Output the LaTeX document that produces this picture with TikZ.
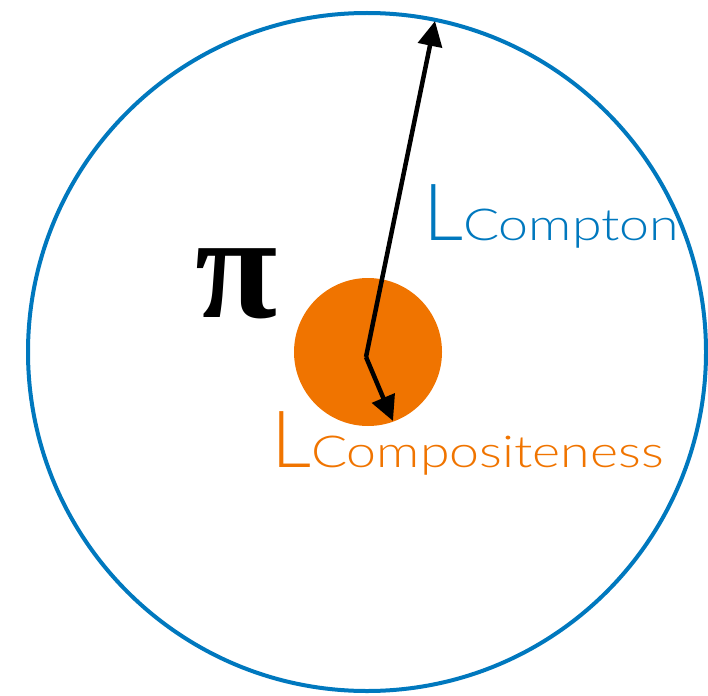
\documentclass[tikz,border=0pt]{standalone}
\usepackage{fontspec}
\usetikzlibrary{arrows.meta}
\newfontfamily\thinfont{Lato Light}
\newfontfamily\widefont[FakeStretch=1.22]{Lato Light}
\newfontfamily\pifont{Liberation Serif}
\definecolor{cblue}{RGB}{0,120,190}
\definecolor{corange}{RGB}{240,116,0}
\begin{document}
\begin{tikzpicture}[x=1pt,y=-1pt,
  ring/.style={circle, draw=cblue, line width=4pt, minimum size=678pt, inner sep=0pt},
  blob/.style={circle, fill=corange, minimum size=148pt, inner sep=0pt},
  vec/.style={line width=4.5pt, -{Triangle[length=25pt,width=24pt]}},
  lab/.style={anchor=base west, inner sep=0pt}]
\useasboundingbox (0,0) rectangle (708,695);
\node[ring] (big) at (367,352) {};
\node[blob] (small) at (368,352) {};
\coordinate (o) at (366,357);
\coordinate (t1) at (435,21);
\coordinate (t2) at (393,421);
\draw[vec] (o) -- (t1);
\draw[vec] (o) -- (t2);
\node[anchor=base, inner sep=0pt, font=\pifont\bfseries\fontsize{150}{150}\selectfont] (pi) at (237,317) {π};
\node[lab, text=cblue] (lc) at (423,240) {{\thinfont\fontsize{79}{79}\selectfont L}{\widefont\fontsize{44}{44}\selectfont Compton}};
\node[lab, text=corange] (lo) at (271,467) {{\thinfont\fontsize{79}{79}\selectfont L}{\widefont\fontsize{44}{44}\selectfont Compositeness}};
\end{tikzpicture}
\end{document}
